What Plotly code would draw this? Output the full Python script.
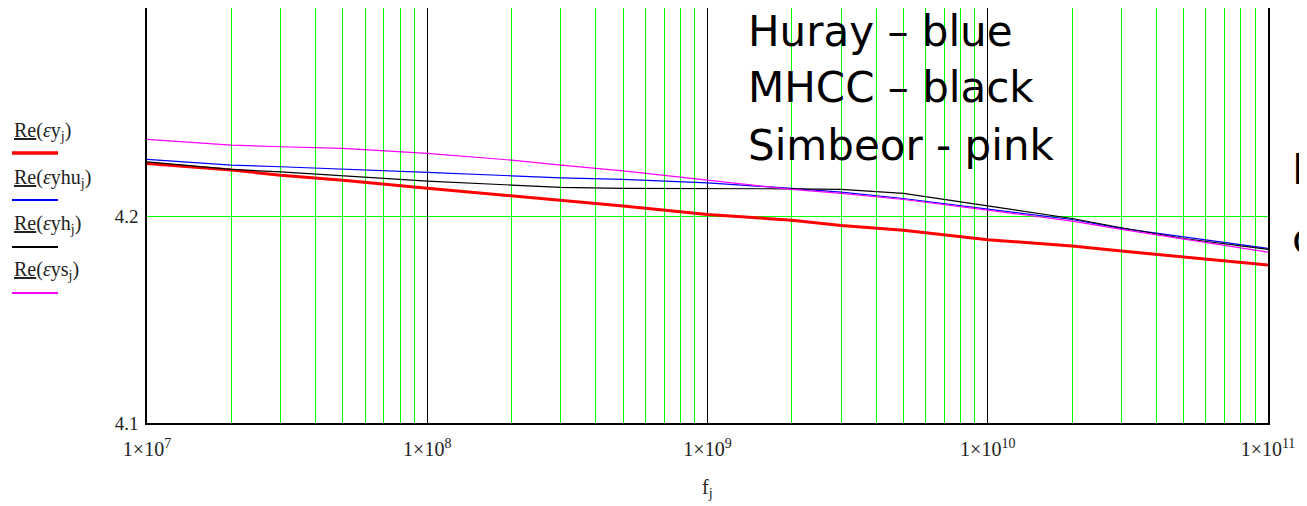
import plotly.graph_objects as go

# ---------------- data ----------------
freq = [1e7, 2e7, 3e7, 5e7, 1e8, 2e8, 3e8, 5e8, 1e9, 2e9, 3e9, 5e9,
        1e10, 2e10, 3e10, 5e10, 1e11]
eps_y = [4.2259, 4.2227, 4.2202, 4.2178, 4.2139, 4.2101, 4.2078, 4.2053, 4.2011,
         4.1984, 4.1958, 4.1935, 4.1889, 4.1858, 4.1834, 4.1806, 4.1766]
eps_yhu = [4.2279, 4.2251, 4.2243, 4.2230, 4.2216, 4.2199, 4.2189, 4.2182, 4.2165,
           4.2138, 4.2120, 4.2089, 4.2039, 4.1987, 4.1944, 4.1903, 4.1847]
eps_yh = [4.2267, 4.2230, 4.2218, 4.2198, 4.2173, 4.2154, 4.2143, 4.2138, 4.2138,
          4.2136, 4.2133, 4.2114, 4.2053, 4.1992, 4.1947, 4.1895, 4.1842]
eps_ys = [4.2376, 4.2348, 4.2340, 4.2332, 4.2308, 4.2275, 4.2251, 4.2223, 4.2178,
          4.2133, 4.2114, 4.2084, 4.2033, 4.1979, 4.1939, 4.1892, 4.1829]

x_tickvals = [1e7, 1e8, 1e9, 1e10, 1e11]
x_ticktext = ["1×10<sup>7</sup>", "1×10<sup>8</sup>", "1×10<sup>9</sup>",
              "1×10<sup>10</sup>", "1×10<sup>11</sup>"]
y_tickvals = [4.1, 4.2]
y_ticktext = ["4.1", "4.2"]

legend_labels = ["<u>Re</u>(<i>ε</i>y<sub>j</sub>)", "<u>Re</u>(<i>ε</i>yhu<sub>j</sub>)",
                 "<u>Re</u>(<i>ε</i>yh<sub>j</sub>)", "<u>Re</u>(<i>ε</i>ys<sub>j</sub>)"]
note_lines = ["Huray – blue", "MHCC – black", "Simbeor - pink"]

# ---------------- styling / layout ----------------
OFF = 8  # default page body margin of the html output
W, H = 1307 - OFF, 506 - OFF
L, R, T, B = 147 - OFF, 1268 - OFF, 0, 423 - OFF
PW, PH = R - L, B - T


def px(x):  # page pixel -> paper x
    return (x - OFF - L) / PW


def py(y):  # page pixel -> paper y
    return (B - (y - OFF)) / PH


serif = "Liberation Serif, Times New Roman, serif"
sans = "DejaVu Sans, Verdana, sans-serif"
GREEN = "#00ff00"

series = [
    (eps_y, "#ff0000", 3.0),
    (eps_yhu, "#0000ff", 1.2),
    (eps_yh, "#000000", 1.2),
    (eps_ys, "#ff00ff", 1.2),
]

fig = go.Figure()
# empty trace so that the base (green-grid) subplot gets created
fig.add_trace(go.Scatter(x=[], y=[], xaxis="x", yaxis="y", mode="lines",
                         showlegend=False, hoverinfo="skip"))
for vals, col, w in series:
    fig.add_trace(go.Scatter(x=freq, y=vals, mode="lines", line=dict(color=col, width=w),
                             xaxis="x2", yaxis="y", showlegend=False, hoverinfo="skip"))

fig.update_layout(
    width=W, height=H,
    margin=dict(l=L, r=W - R, t=T, b=H - B, autoexpand=False),
    paper_bgcolor="white", plot_bgcolor="white",
    showlegend=False,
    xaxis=dict(
        type="log", range=[7, 11], dtick="D1",
        showticklabels=False, ticks="",
        showgrid=True, gridcolor=GREEN, gridwidth=1,
        showline=True, linecolor="#000", linewidth=1.5, mirror=True, zeroline=False,
    ),
    xaxis2=dict(
        type="log", range=[7, 11], overlaying="x", side="bottom", anchor="y",
        tickmode="array", tickvals=x_tickvals, ticktext=x_ticktext,
        tickfont=dict(family=serif, size=20, color="#222"),
        ticks="", ticklabelstandoff=12,
        showgrid=True, gridcolor="#000000", gridwidth=1,
        showline=False, zeroline=False,
    ),
    yaxis=dict(
        range=[4.1, 4.3013],
        tickmode="array", tickvals=y_tickvals, ticktext=y_ticktext,
        tickfont=dict(family=serif, size=19, color="#222"),
        ticks="", ticklabelstandoff=3,
        showgrid=True, gridcolor=GREEN, gridwidth=1,
        showline=True, linecolor="#000", linewidth=1.5, mirror=True, zeroline=False,
    ),
)

# legend-like labels on the left
label_y = [131, 178, 224, 270]
line_y = [153, 200, 247, 293]
for lab, ly, sy, (vals, col, w) in zip(legend_labels, label_y, line_y, series):
    fig.add_annotation(text=lab, xref="paper", yref="paper", x=px(12), y=py(ly),
                       xanchor="left", yanchor="middle", showarrow=False,
                       font=dict(family=serif, size=20, color="#222"))
    fig.add_shape(type="line", xref="paper", yref="paper", x0=px(12), x1=px(58),
                  y0=py(sy), y1=py(sy), line=dict(color=col, width=w + 0.6))

# x-axis title
fig.add_annotation(text="f<sub>j</sub>", xref="paper", yref="paper", x=px(707), y=py(488),
                   xanchor="center", yanchor="middle", showarrow=False,
                   font=dict(family=serif, size=20, color="#222"))

# overlaid slide text
for txt, ty in zip(note_lines, [31, 88, 145]):
    fig.add_annotation(text=txt, xref="paper", yref="paper", x=px(746), y=py(ty),
                       xanchor="left", yanchor="middle", showarrow=False,
                       font=dict(family=sans, size=42, color="#000"))
# cropped letters at right edge
for txt, ty in zip(["I", "c"], [170, 238]):
    fig.add_annotation(text=txt, xref="paper", yref="paper", x=px(1290), y=py(ty),
                       xanchor="left", yanchor="middle", showarrow=False,
                       font=dict(family=sans, size=42, color="#000"))

fig.write_html("out.html")
